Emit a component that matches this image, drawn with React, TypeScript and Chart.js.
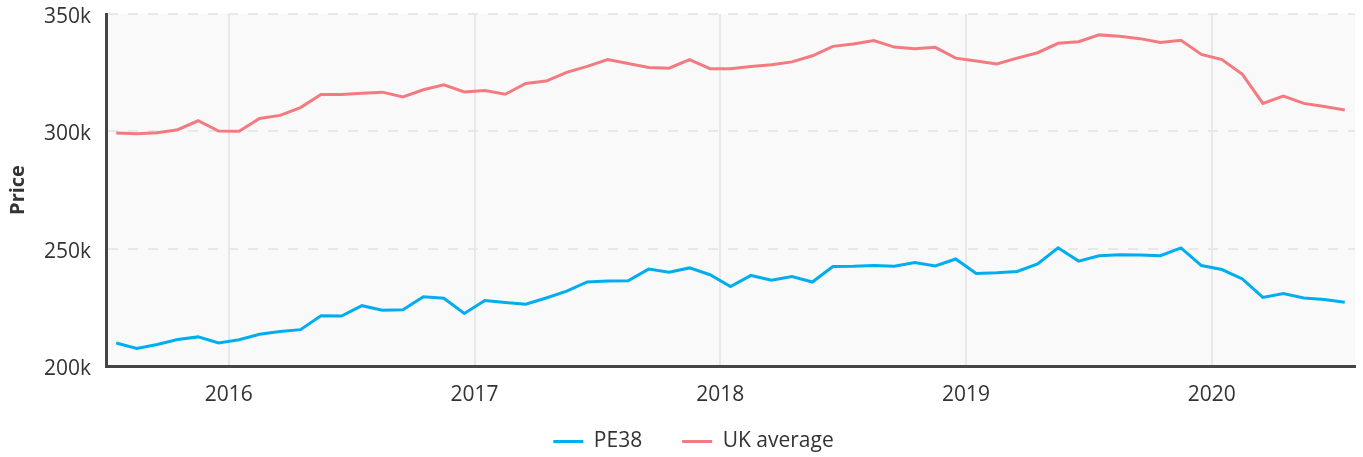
import React, { useEffect, useRef } from "react";
import { Chart, registerables } from "chart.js";

Chart.register(...registerables);

const months: string[] = [
  "2015-07", "2015-08", "2015-09", "2015-10", "2015-11", "2015-12",
  "2016-01", "2016-02", "2016-03", "2016-04", "2016-05", "2016-06",
  "2016-07", "2016-08", "2016-09", "2016-10", "2016-11", "2016-12",
  "2017-01", "2017-02", "2017-03", "2017-04", "2017-05", "2017-06",
  "2017-07", "2017-08", "2017-09", "2017-10", "2017-11", "2017-12",
  "2018-01", "2018-02", "2018-03", "2018-04", "2018-05", "2018-06",
  "2018-07", "2018-08", "2018-09", "2018-10", "2018-11", "2018-12",
  "2019-01", "2019-02", "2019-03", "2019-04", "2019-05", "2019-06",
  "2019-07", "2019-08", "2019-09", "2019-10", "2019-11", "2019-12",
  "2020-01", "2020-02", "2020-03", "2020-04", "2020-05", "2020-06",
  "2020-07",
];

// prices in thousands of pounds
const pe38: number[] = [
  209.8, 207.5, 209.2, 211.3, 212.4, 209.8,
  211.2, 213.5, 214.7, 215.5, 221.4, 221.3,
  225.7, 223.8, 224.0, 229.5, 228.9, 222.4,
  227.9, 227.1, 226.3, 229.0, 231.9, 235.8,
  236.2, 236.3, 241.3, 240.0, 241.8, 238.9,
  233.9, 238.6, 236.6, 238.1, 235.8, 242.4,
  242.5, 242.8, 242.5, 244.1, 242.6, 245.6,
  239.4, 239.7, 240.3, 243.5, 250.4, 244.7,
  247.0, 247.4, 247.3, 247.0, 250.3, 242.8,
  241.1, 237.1, 229.2, 230.9, 229.0, 228.3,
  227.2,
];

const ukAverage: number[] = [
  299.3, 299.0, 299.4, 300.7, 304.5, 300.1,
  300.0, 305.5, 306.8, 310.1, 315.7, 315.7,
  316.2, 316.7, 314.7, 317.7, 319.8, 316.8,
  317.4, 315.8, 320.4, 321.4, 325.1, 327.7,
  330.6, 328.9, 327.2, 326.9, 330.6, 326.7,
  326.7, 327.6, 328.4, 329.6, 332.2, 336.2,
  337.2, 338.7, 335.9, 335.2, 335.8, 331.2,
  330.0, 328.7, 331.2, 333.5, 337.5, 338.2,
  341.1, 340.5, 339.5, 337.9, 338.8, 332.8,
  330.6, 324.3, 311.9, 315.0, 311.9, 310.6,
  309.1,
];

const yearTicks: number[] = [2016, 2017, 2018, 2019, 2020];
const priceTicks: number[] = [200, 250, 300, 350];

const seriesNames = ["PE38", "UK average"];
const FONT = "'Open Sans', 'Noto Sans', sans-serif";
const TEXT = "#333333";

// month string -> fractional year at mid-month
const monthToX = (m: string): number => {
  const [y, mo] = m.split("-").map(Number);
  return y + (mo - 0.5) / 12;
};

const plotBackground = {
  id: "plotBackground",
  beforeDraw(chart: any) {
    const { ctx, chartArea } = chart;
    if (!chartArea) return;
    ctx.save();
    ctx.fillStyle = "#f9f9f9";
    ctx.fillRect(
      chartArea.left,
      chartArea.top,
      chartArea.right - chartArea.left,
      chartArea.bottom - chartArea.top
    );
    ctx.restore();
  },
};

// pull the legend row up closer to the axis labels
const legendShift = {
  id: "legendShift",
  afterLayout(chart: any) {
    const l = chart.legend;
    if (l) {
      l.top -= 16;
      l.bottom -= 16;
      l.left += 16;
      l.right += 16;
    }
  },
};

export default function App() {
  const canvasRef = useRef<HTMLCanvasElement | null>(null);

  useEffect(() => {
    if (!canvasRef.current) return;
    const xs = months.map(monthToX);
    const chart = new Chart(canvasRef.current, {
      type: "line",
      data: {
        datasets: [
          {
            label: seriesNames[0],
            data: xs.map((x, i) => ({ x, y: pe38[i] })),
            borderColor: "#00aeef",
            backgroundColor: "#00aeef",
            borderWidth: 3,
            pointRadius: 0,
            tension: 0,
          },
          {
            label: seriesNames[1],
            data: xs.map((x, i) => ({ x, y: ukAverage[i] })),
            borderColor: "#f37b80",
            backgroundColor: "#f37b80",
            borderWidth: 3,
            pointRadius: 0,
            tension: 0,
          },
        ],
      },
      options: {
        animation: false,
        responsive: false,
        maintainAspectRatio: false,
        layout: { padding: { left: 0, right: 8, top: 14, bottom: -21 } },
        scales: {
          x: {
            type: "linear",
            min: 2015.5,
            max: 2020 + 7 / 12,
            afterBuildTicks: (scale: any) => {
              scale.ticks = yearTicks.map((v) => ({ value: v }));
            },
            afterFit: (scale: any) => {
              scale.height = 41;
            },
            ticks: {
              callback: (v: any) => String(v),
              color: TEXT,
              font: { family: FONT, size: 21 },
              padding: 16,
              maxRotation: 0,
            },
            grid: {
              color: "#e8e8e8",
              lineWidth: 2,
              drawTicks: false,
            },
            border: { display: true, color: "#444444", width: 3 },
          },
          y: {
            type: "linear",
            min: 200,
            max: 350,
            afterBuildTicks: (scale: any) => {
              scale.ticks = priceTicks.map((v) => ({ value: v }));
            },
            afterFit: (scale: any) => {
              scale.width = 106;
              scale.paddingTop = 0;
              scale.paddingBottom = 0;
            },
            ticks: {
              callback: (v: any) => `${v}k`,
              color: TEXT,
              font: { family: FONT, size: 21 },
              padding: 15,
              labelOffset: 3,
            },
            grid: {
              color: "#e8e8e8",
              lineWidth: 2,
              drawTicks: false,
            },
            border: { display: true, color: "#444444", width: 3, dash: [10, 10] },
            title: {
              display: true,
              text: "Price",
              color: TEXT,
              font: { family: FONT, size: 20, weight: "bold" },
              padding: { top: 6, bottom: 0 },
            },
          },
        },
        plugins: {
          legend: {
            position: "bottom",
            labels: {
              boxWidth: 30,
              boxHeight: 3,
              padding: 40,
              color: TEXT,
              font: { family: FONT, size: 21 },
              generateLabels: (c: any) =>
                Chart.defaults.plugins.legend.labels
                  .generateLabels(c)
                  .map((l: any) => ({ ...l, lineWidth: 0 })),
            },
          },
          tooltip: { enabled: false },
        },
      },
      plugins: [plotBackground, legendShift],
    });
    return () => chart.destroy();
  }, []);

  return (
    <div style={{ position: "absolute", left: 0, top: 0, width: 1363, height: 457 }}>
      <canvas ref={canvasRef} width={1363} height={457} style={{ width: 1363, height: 457 }} />
    </div>
  );
}
